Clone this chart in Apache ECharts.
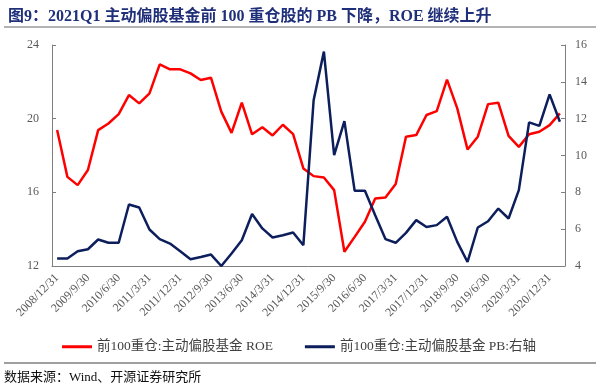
<!DOCTYPE html>
<html>
<head>
<meta charset="utf-8">
<script src="https://cdn.jsdelivr.net/npm/echarts@6/dist/echarts.min.js"></script>
<style>
html,body{margin:0;padding:0;background:#fff;}
#main{width:600px;height:391px;}
</style>
</head>
<body>
<div id="main"></div>
<script>
var categories = [
"2008/12/31","2009/3/31","2009/6/30","2009/9/30","2009/12/31",
"2010/3/31","2010/6/30","2010/9/30","2010/12/31",
"2011/3/31","2011/6/30","2011/9/30","2011/12/31",
"2012/3/31","2012/6/30","2012/9/30","2012/12/31",
"2013/3/31","2013/6/30","2013/9/30","2013/12/31",
"2014/3/31","2014/6/30","2014/9/30","2014/12/31",
"2015/3/31","2015/6/30","2015/9/30","2015/12/31",
"2016/3/31","2016/6/30","2016/9/30","2016/12/31",
"2017/3/31","2017/6/30","2017/9/30","2017/12/31",
"2018/3/31","2018/6/30","2018/9/30","2018/12/31",
"2019/3/31","2019/6/30","2019/9/30","2019/12/31",
"2020/3/31","2020/6/30","2020/9/30","2020/12/31",
"2021/3/31"
];
var roeValues = [
19.38,16.84,16.39,17.21,19.38,19.74,20.25,21.28,20.83,21.37,
22.95,22.68,22.68,22.46,22.10,22.22,20.38,19.23,20.87,19.15,
19.53,19.09,19.67,19.16,17.30,16.88,16.81,16.12,12.77,13.58,
14.40,15.67,15.72,16.45,19.02,19.11,20.20,20.41,22.12,20.56,
18.33,19.02,20.79,20.87,19.07,18.47,19.15,19.29,19.65,20.29
];
var pbValues = [
4.41,4.41,4.80,4.91,5.44,5.26,5.26,7.34,7.18,5.98,
5.46,5.22,4.80,4.37,4.49,4.62,4.00,4.68,5.40,6.82,
6.04,5.55,5.67,5.82,5.13,13.00,15.64,10.02,11.87,8.08,
8.08,6.76,5.46,5.26,5.80,6.49,6.12,6.22,6.67,5.31,
4.22,6.09,6.43,7.12,6.58,8.12,11.80,11.61,13.32,11.83
];
var leftTicks = {min: 12, max: 24, interval: 4};
var rightTicks = {min: 4, max: 16, interval: 2};
var titleText = "图9：2021Q1 主动偏股基金前 100 重仓股的 PB 下降，ROE 继续上升";
var sourceText = "数据来源：Wind、开源证券研究所";
var roeName = "前100重仓:主动偏股基金 ROE";
var pbName = "前100重仓:主动偏股基金 PB:右轴";

var serif = '"Liberation Serif","Noto Sans CJK SC",serif';
var chart = echarts.init(document.getElementById('main'), null, {renderer: 'canvas'});
var axisStyle = {lineStyle: {color: '#7f7f7f', width: 1}};
var labelStyle = {color: '#595959', fontFamily: serif, fontSize: 12};
chart.setOption({
  backgroundColor: '#ffffff',
  animation: false,
  title: {
    text: titleText,
    left: 3, top: 4,
    textStyle: {color: '#1f2f7a', fontFamily: serif, fontWeight: 'bold', fontSize: 16}
  },
  graphic: [
    {type: 'line', shape: {x1: 4, y1: 27, x2: 596, y2: 27}, style: {stroke: '#9a9a9a', lineWidth: 1.5}},
    {type: 'line', shape: {x1: 4, y1: 363, x2: 596, y2: 363}, style: {stroke: '#7f7f7f', lineWidth: 1.5}},
    {type: 'text', left: 4, top: 371, style: {text: sourceText, fill: '#111', font: '13px ' + serif}}
  ],
  legend: {
    top: 335, left: 57,
    itemWidth: 30, itemHeight: 3, itemGap: 32,
    icon: 'rect',
    textStyle: {color: '#404040', fontFamily: serif, fontSize: 13.5},
    data: [roeName, pbName]
  },
  grid: {left: 52, right: 35, top: 45, bottom: 125},
  xAxis: {
    type: 'category',
    data: categories,
    boundaryGap: true,
    axisLine: axisStyle,
    axisTick: {inside: true, length: 4, interval: 2, alignWithLabel: false, lineStyle: {color: '#7f7f7f'}},
    axisLabel: Object.assign({interval: 2, rotate: 45, margin: 10}, labelStyle),
    splitLine: {show: false}
  },
  yAxis: [
    {
      type: 'value', position: 'left',
      min: leftTicks.min, max: leftTicks.max, interval: leftTicks.interval,
      axisLine: Object.assign({show: true}, axisStyle),
      axisTick: {show: true, inside: true, length: 4, lineStyle: {color: '#7f7f7f'}},
      axisLabel: Object.assign({margin: 13}, labelStyle),
      splitLine: {show: false}
    },
    {
      type: 'value', position: 'right',
      min: rightTicks.min, max: rightTicks.max, interval: rightTicks.interval,
      axisLine: Object.assign({show: true}, axisStyle),
      axisTick: {show: true, inside: true, length: 4, lineStyle: {color: '#7f7f7f'}},
      axisLabel: Object.assign({margin: 10}, labelStyle),
      splitLine: {show: false}
    }
  ],
  series: [
    {
      name: roeName, type: 'line', yAxisIndex: 0, data: roeValues,
      showSymbol: false, symbol: 'none',
      lineStyle: {color: '#ff0000', width: 2.5}, itemStyle: {color: '#ff0000'}
    },
    {
      name: pbName, type: 'line', yAxisIndex: 1, data: pbValues,
      showSymbol: false, symbol: 'none',
      lineStyle: {color: '#0c1e5b', width: 2.5}, itemStyle: {color: '#0c1e5b'}
    }
  ]
});
</script>
</body>
</html>
